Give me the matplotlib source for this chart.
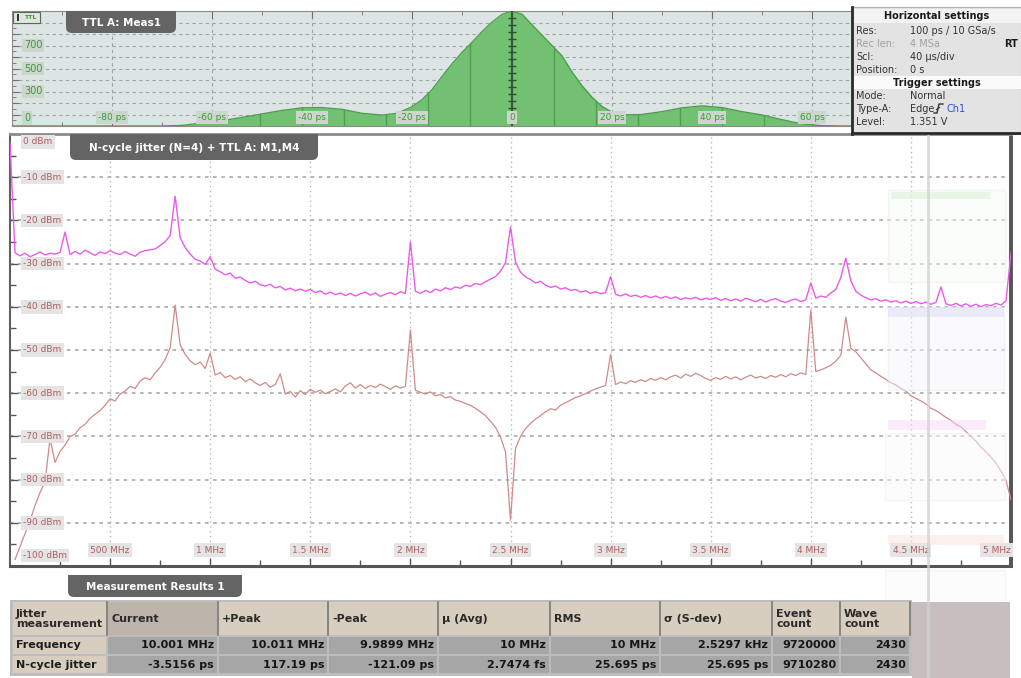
import numpy as np
import matplotlib.pyplot as plt
from matplotlib.patches import Rectangle, FancyBboxPatch
from matplotlib.transforms import blended_transform_factory

W, H = 1021, 678

# ---- TTL A: Meas1 histogram (time error in ps vs. hits)
hist_ps = [-100, -70, -66, -62, -56, -50, -46, -42, -38, -34, -30, -26, -23, -20,
           -18, -16, -14, -12, -10, -8, -6, -4, -2, 0, 2, 4, 6, 8, 10, 12, 14,
           16, 18, 20, 22, 26, 30, 34, 38, 42, 46, 50, 54, 58, 62, 66, 100]
hist_counts = [0, 0, 5, 26, 60, 105, 135, 158, 160, 145, 110, 95, 110, 167,
               228, 316, 430, 540, 640, 728, 820, 903, 970, 1000, 972, 880, 790,
               700, 610, 470, 350, 250, 170, 120, 96, 100, 125, 158, 175, 160,
               125, 96, 55, 18, 3, 0, 0]
hist_bins_ps = [-50.4, -42, -33.6, -25.2, -16.8, -8.4, 8.4, 16.8, 25.2, 33.6, 42, 50.4]
hist_xticks = [-80, -60, -40, -20, 0, 20, 40, 60]
hist_xlabels = ["-80 ps", "-60 ps", "-40 ps", "-20 ps", "0", "20 ps", "40 ps", "60 ps"]
hist_yticks = [0, 300, 500, 700]

# ---- N-cycle jitter spectrum, 0..5 MHz in 201 bins
freq_mhz = np.linspace(0, 5, 201)
jitter_m1_dbm = [
    -2.0, -27.5, -28.2, -27.6, -28.4, -27.9, -27.3, -28.0, -27.6, -27.8,
    -27.4, -22.7, -27.9, -27.2, -27.8, -26.9, -27.5, -28.1, -27.3, -27.7,
    -27.0, -27.6, -27.9, -27.2, -27.8, -28.3, -27.4, -27.0, -26.8, -26.6,
    -25.8, -24.9, -23.5, -14.4, -24.0, -26.3, -27.8, -29.0, -29.4, -30.2,
    -28.4, -31.3, -31.9, -32.6, -32.2, -33.4, -33.1, -33.9, -34.5, -34.1,
    -34.9, -35.2, -34.8, -35.6, -35.3, -36.1, -35.7, -36.3, -35.9, -36.4,
    -36.0, -36.7, -36.3, -37.1, -36.6, -37.2, -36.8, -37.4, -36.9, -37.5,
    -37.0, -36.6, -37.3, -36.8, -37.6, -37.1, -36.7, -37.2, -36.5, -36.9,
    -25.0, -36.4, -36.9, -36.2, -36.7, -35.9, -36.3, -35.6, -36.0, -35.4,
    -35.7, -35.0, -35.3, -34.6, -34.9, -34.2, -33.6, -33.0, -31.8, -29.8,
    -21.5, -29.6, -32.0, -33.1, -33.7, -34.5, -34.1, -35.0, -35.5, -35.2,
    -35.9, -35.6, -36.2, -36.0, -36.6, -36.3, -36.9, -36.5, -37.0, -36.7,
    -33.0, -37.1, -37.5, -37.0, -37.6, -37.3, -37.8, -37.4, -37.9, -37.5,
    -38.0, -37.6, -38.1, -37.7, -38.3, -37.9, -38.2, -37.8, -38.4, -38.0,
    -38.3, -37.9, -38.5, -38.1, -38.6, -38.2, -38.7, -38.0, -38.4, -38.8,
    -38.3, -38.9, -38.4, -38.1, -38.7, -39.0, -38.5, -38.2, -38.8, -38.4,
    -34.5, -38.0, -37.5, -37.8, -36.8, -36.0, -33.2, -28.7, -34.0, -36.4,
    -37.3, -37.9, -38.4, -38.1, -38.7, -38.4, -38.9, -38.6, -39.1, -38.7,
    -39.2, -38.8, -39.3, -38.9, -39.4, -39.0, -35.4, -39.3, -39.7, -39.2,
    -39.8, -39.3, -39.9, -39.4, -40.0, -39.5, -39.7, -39.2, -39.6, -38.6,
    -27.5]
jitter_m4_dbm = [
    np.nan, -98.5, -95.5, -92.5, -89.5, -86.0, -83.0, -80.5, -70.5, -76.0,
    -73.5, -72.0, -70.0, -69.5, -68.0, -67.2, -65.8, -64.9, -64.0, -62.8,
    -61.3, -61.8, -60.2, -59.5, -58.4, -58.9, -57.2, -56.4, -56.9, -55.3,
    -54.0, -52.2, -49.5, -39.6, -48.8, -51.0, -52.5, -53.4, -52.8, -54.3,
    -50.7, -55.8, -55.2, -56.4, -55.9, -56.8, -56.2, -57.3, -56.7, -57.6,
    -58.2, -57.5, -58.6, -58.0, -55.5, -60.2, -59.6, -60.9, -59.4, -60.3,
    -59.1, -59.8, -59.3, -60.1, -59.6, -59.0, -59.7, -58.3, -57.6, -58.8,
    -58.0, -58.9, -58.2, -58.7, -57.9, -58.5, -59.1, -58.3, -58.8, -58.4,
    -45.4, -59.3, -59.8, -60.2, -59.7, -60.6, -60.3, -61.1, -60.8, -61.6,
    -61.9, -62.4, -62.8, -63.5, -64.3, -65.2, -66.5, -67.9, -70.1, -73.6,
    -89.4, -72.8, -70.0, -68.2, -67.0, -66.0, -65.2, -64.3, -63.6, -63.9,
    -62.8, -62.2, -61.6, -61.0, -60.6, -60.1, -59.5, -59.0, -58.6, -58.2,
    -51.0, -58.0, -57.4, -57.8, -57.1, -57.5, -56.9, -57.3, -56.6, -57.0,
    -56.4, -56.9, -56.2, -55.8, -56.5, -55.6, -56.1, -55.4, -55.9, -56.6,
    -57.0, -56.4, -56.8, -56.1, -56.7, -56.2, -56.9, -56.3, -55.8, -56.5,
    -56.1, -56.6, -55.9, -56.3, -55.7, -56.2, -55.5, -55.9, -55.3, -55.7,
    -40.7, -55.0, -54.6, -54.1, -53.5, -52.6, -51.2, -42.4, -49.6, -50.4,
    -51.8, -53.2, -54.6, -55.3, -56.1, -56.8, -57.6, -58.1, -58.9, -59.5,
    -60.6, -61.2, -61.8, -62.5, -63.5, -64.0, -64.8, -65.6, -66.3, -67.2,
    -67.8, -68.9, -70.0, -71.1, -72.5, -73.6, -74.8, -76.2, -78.0, -80.2,
    -84.7]
spec_xticks = [0.5, 1.0, 1.5, 2.0, 2.5, 3.0, 3.5, 4.0, 4.5, 5.0]
spec_xlabels = ["500 MHz", "1 MHz", "1.5 MHz", "2 MHz", "2.5 MHz", "3 MHz",
                "3.5 MHz", "4 MHz", "4.5 MHz", "5 MHz"]
spec_yticks = [0, -10, -20, -30, -40, -50, -60, -70, -80, -90, -100]

# ---- settings panel text
horiz_labels = ["Res:", "Rec len:", "Scl:", "Position:"]
horiz_values = ["100 ps / 10 GSa/s", "4 MSa", "40 \u00b5s/div", "0 s"]
trig_labels = ["Mode:", "Type-A:", "Level:"]
trig_values = ["Normal", "Edge", "1.351 V"]

# ---- measurement table
table_header = ["Jitter\nmeasurement", "Current", "+Peak", "-Peak", "\u00b5 (Avg)",
                "RMS", "\u03c3 (S-dev)", "Event\ncount", "Wave\ncount"]
table_rows = ["Frequency", "N-cycle jitter"]
freq_vals = ["10.001 MHz", "10.011 MHz", "9.9899 MHz", "10 MHz", "10 MHz",
             "2.5297 kHz", "9720000", "2430"]
jitter_vals = ["-3.5156 ps", "117.19 ps", "-121.09 ps", "2.7474 fs", "25.695 ps",
               "25.695 ps", "9710280", "2430"]


def rect(x0, y0, x1, y1):
    return [x0 / W, 1 - y1 / H, (x1 - x0) / W, (y1 - y0) / H]


plt.rcParams['font.family'] = ['DejaVu Sans']
fig = plt.figure(figsize=(W / 100, H / 100), dpi=100)

# ---------------- histogram panel
ax1 = fig.add_axes(rect(12, 11, 1012, 126))
ax1.set_facecolor('#dde4e4')
ax1.set_xlim(-100, 100)
ax1.set_ylim(0, 1000)
fill = ax1.fill_between(hist_ps, hist_counts, color='#72c072', lw=0, zorder=2)
ax1.plot(hist_ps, hist_counts, color='#4c9f4c', lw=1, zorder=3)
bins = ax1.vlines(hist_bins_ps, 0, 1000, colors='#4f9f4f', lw=1.0, zorder=2.5)
bins.set_clip_path(fill.get_paths()[0], ax1.transData)
ax1.axvline(0, color='#3b5b3b', lw=1.6, zorder=3)
ax1.plot(np.zeros(16), np.arange(40, 1000, 60), ls='none', marker='_', ms=6,
         color='#2f4f2f', zorder=3)
ax1.set_xticks(hist_xticks)
ax1.set_xticks(np.arange(-90, 100, 10), minor=True)
ax1.set_yticks(np.arange(100, 1000, 100))
ax1.set_yticks(np.arange(50, 1000, 50), minor=True)
ax1.tick_params(which='both', direction='in', labelbottom=False, labelleft=False,
                top=True, color='#707070')
ax1.tick_params(which='major', length=5)
ax1.tick_params(which='minor', length=3)
ax1.grid(True, ls=(0, (3, 3)), color='#9aa5a5', lw=0.8)
for s in ax1.spines.values():
    s.set_color('#8a8a8a')
hx = blended_transform_factory(ax1.transData, ax1.transAxes)
for v, lab in zip(hist_xticks, hist_xlabels):
    ax1.text(v, 0.075, lab, transform=hx, ha='center', va='center', fontsize=6.5,
             color='#3a9a3a', zorder=4,
             bbox=dict(boxstyle='square,pad=0.2', fc='#ccd6cc', ec='none'))
hy = blended_transform_factory(ax1.transAxes, ax1.transData)
for v in hist_yticks:
    ax1.text(0.012, max(v, 70), str(v), transform=hy, ha='left', va='center',
             fontsize=7, color='#3a9a3a', zorder=4,
             bbox=dict(boxstyle='square,pad=0.2', fc='#ccd6cc', ec='none'))

# ---------------- spectrum panel
ax2 = fig.add_axes(rect(10, 134, 1011, 566))
ax2.set_xlim(0, 5)
ax2.set_ylim(-100, 0)
ax2.plot(freq_mhz, jitter_m4_dbm, color='#d08a8a', lw=0.9, zorder=3)
ax2.plot(freq_mhz, jitter_m1_dbm, color='#ec5aec', lw=1.0, zorder=3)
ax2.set_xticks(spec_xticks)
ax2.set_xticks(np.arange(0.25, 5.0, 0.25), minor=True)
ax2.set_yticks(spec_yticks)
ax2.set_yticks(np.arange(-95, 0, 5), minor=True)
ax2.tick_params(which='both', direction='in', labelbottom=False, labelleft=False,
                color='#555555')
ax2.tick_params(which='major', length=6, width=1)
ax2.tick_params(which='minor', length=4, width=1)
ax2.xaxis.grid(True, ls=(0, (1, 2.5)), color='#b8b8b8', lw=1.0)
ax2.yaxis.grid(True, ls=(0, (2, 2.5)), color='#b0b0b0', lw=1.3)
ax2.spines['left'].set(color='#606060', lw=1.5)
ax2.spines['bottom'].set(color='#555555', lw=2.2)
ax2.spines['right'].set(color='#555555', lw=2.8)
ax2.spines['top'].set(color='#8c8c8c', lw=2.0)
sy = blended_transform_factory(ax2.transAxes, ax2.transData)
for v in spec_yticks:
    ypos = {0: -1.8, -100: -97.6}.get(v, v)
    ax2.text(0.013, ypos, f"{v} dBm", transform=sy, ha='left', va='center',
             fontsize=6.5, color='#b45c5c', zorder=4,
             bbox=dict(boxstyle='square,pad=0.25', fc='#e4e4e4', ec='none'))
sx = blended_transform_factory(ax2.transData, ax2.transAxes)
for v, lab in zip(spec_xticks, spec_xlabels):
    ax2.text(v - (0.003 if v == 5.0 else 0), 0.037, lab, transform=sx,
             ha='right' if v == 5.0 else 'center', va='center', fontsize=6.5,
             color='#b45c5c', zorder=4,
             bbox=dict(boxstyle='square,pad=0.25', fc='#e4e4e4', ec='none'))

# ---------------- overlay in pixel coordinates
ov = fig.add_axes([0, 0, 1, 1], zorder=5)
ov.set_xlim(0, W)
ov.set_ylim(H, 0)
ov.axis('off')
ov.patch.set_alpha(0)


def box(x0, y0, x1, y1, **kw):
    ov.add_patch(Rectangle((x0, y0), x1 - x0, y1 - y0, **kw))


def tab(x0, y0, x1, y1, label):
    ov.add_patch(FancyBboxPatch((x0, y0), x1 - x0, y1 - y0,
                                boxstyle='round,pad=0,rounding_size=6',
                                fc='#646464', ec='none'))
    box(x0, y0, x1, (y0 + y1) / 2, fc='#646464', ec='none')
    ov.text((x0 + x1) / 2, (y0 + y1) / 2 + 1, label, color='white', fontsize=7.5,
            fontweight='bold', ha='center', va='center')


# faded side dialogs behind the trace area
box(888, 190, 1005, 282, fc='#f6fbf6', ec='#dfeedf', lw=1, alpha=0.45)
box(891, 192, 990, 199, fc='#d6f0d6', ec='none', alpha=0.5)
box(888, 307, 1004, 390, fc='#f5f5fc', ec='#e6e6f6', lw=1, alpha=0.45)
box(888, 307, 1004, 317, fc='#dcdcf6', ec='none', alpha=0.5)
box(888, 420, 986, 430, fc='#f8d8f8', ec='none', alpha=0.5)
box(885, 433, 1005, 500, fc='#fafafa', ec='#eeeeee', lw=1, alpha=0.5)
box(888, 535, 1004, 545, fc='#f6e4da', ec='none', alpha=0.5)
box(885, 570, 1005, 615, fc='#fafafa', ec='#eeeeee', lw=1, alpha=0.5)

# tabs
tab(66, 11, 176, 33, "TTL A: Meas1")
tab(70, 134, 318, 160, "N-cycle jitter (N=4) + TTL A: M1,M4")
tab(68, 575, 242, 597, "Measurement Results 1")

# small source button in the histogram corner
box(13, 12, 40, 23, fc='#dfe6df', ec='#5a6a5a', lw=0.8)
box(17, 14, 19, 21, fc='#333333', ec='none')
ov.text(30, 17.5, "TTL", fontsize=4.5, color='#3a9a3a', fontweight='bold',
        ha='center', va='center')

# measurement table
col_edges = [12, 107, 218, 328, 438, 550, 660, 772, 840, 910]
box(10, 600, 912, 676, fc='#bdbdbd', ec='none')
box(912, 602, 1010, 678, fc='#c7bfbf', ec='none')
for i, name in enumerate(table_header):
    x0, x1 = col_edges[i] + 1, col_edges[i + 1] - 1
    box(x0, 602, x1, 635, fc='#bdb5ab' if i == 1 else '#d8cebf', ec='none')
    ov.plot([x1 + 1, x1 + 1], [602, 635], color='#7a7a7a', lw=1.2)
    ov.text(x0 + 3, 619, name, fontsize=8, fontweight='bold', color='#2a2a2a',
            ha='left', va='center', linespacing=0.95)
for r, (label, vals) in enumerate(zip(table_rows, [freq_vals, jitter_vals])):
    y0, y1 = 637 + r * 19, 654 + r * 19
    box(col_edges[0] + 1, y0, col_edges[1] - 1, y1, fc='#d8cebf', ec='none')
    ov.text(col_edges[0] + 4, (y0 + y1) / 2, label, fontsize=8, fontweight='bold',
            color='#1e1e1e', ha='left', va='center')
    for j, val in enumerate(vals):
        x0, x1 = col_edges[j + 1] + 1, col_edges[j + 2] - 1
        box(x0, y0, x1, y1, fc='#a6a6a6', ec='none')
        ov.text(x1 - 3, (y0 + y1) / 2, val, fontsize=8, fontweight='bold',
                color='#161616', ha='right', va='center')

# marker line across trace and table area
ov.plot([928, 928], [134, 678], color='#d2d2d2', lw=2, alpha=0.8)

# horizontal / trigger settings panel
box(852, 7, 1021, 134, fc='#e3e3e3', ec='#b0b0b0', lw=0.8)
box(853, 9, 1021, 23, fc='#f3f3f3', ec='none')
box(853, 76, 1021, 89, fc='#fbfbfb', ec='none')
ov.plot([852, 852], [7, 134], color='#2a2a2a', lw=2)
ov.plot([852, 1021], [133, 133], color='#2a2a2a', lw=2)
ov.text(937, 16, "Horizontal settings", fontsize=7, fontweight='bold',
        color='#1a1a1a', ha='center', va='center')
for k, (lab, val) in enumerate(zip(horiz_labels, horiz_values)):
    c = '#a0a0a0' if k == 1 else '#333333'
    y = 31 + k * 13
    ov.text(856, y, lab, fontsize=7, color=c, ha='left', va='center')
    ov.text(910, y, val, fontsize=7, color=c, ha='left', va='center')
ov.text(1004, 44, "RT", fontsize=7, fontweight='bold', color='#1a1a1a',
        ha='left', va='center')
ov.text(937, 82.5, "Trigger settings", fontsize=7, fontweight='bold',
        color='#1a1a1a', ha='center', va='center')
for k, (lab, val) in enumerate(zip(trig_labels, trig_values)):
    y = 96 + k * 13
    ov.text(856, y, lab, fontsize=7, color='#333333', ha='left', va='center')
    ov.text(910, y, val, fontsize=7, color='#333333', ha='left', va='center')
# rising edge glyph and source
ov.plot([934, 937, 939, 943], [113, 113, 104, 104], color='#333333', lw=1)
ov.plot([936.5, 939.5], [109.5, 107.5], color='#333333', lw=0.8)
ov.text(946, 109, "Ch1", fontsize=7, color='#2f4fe0', ha='left', va='center')

fig.savefig('out.png', dpi=100)
